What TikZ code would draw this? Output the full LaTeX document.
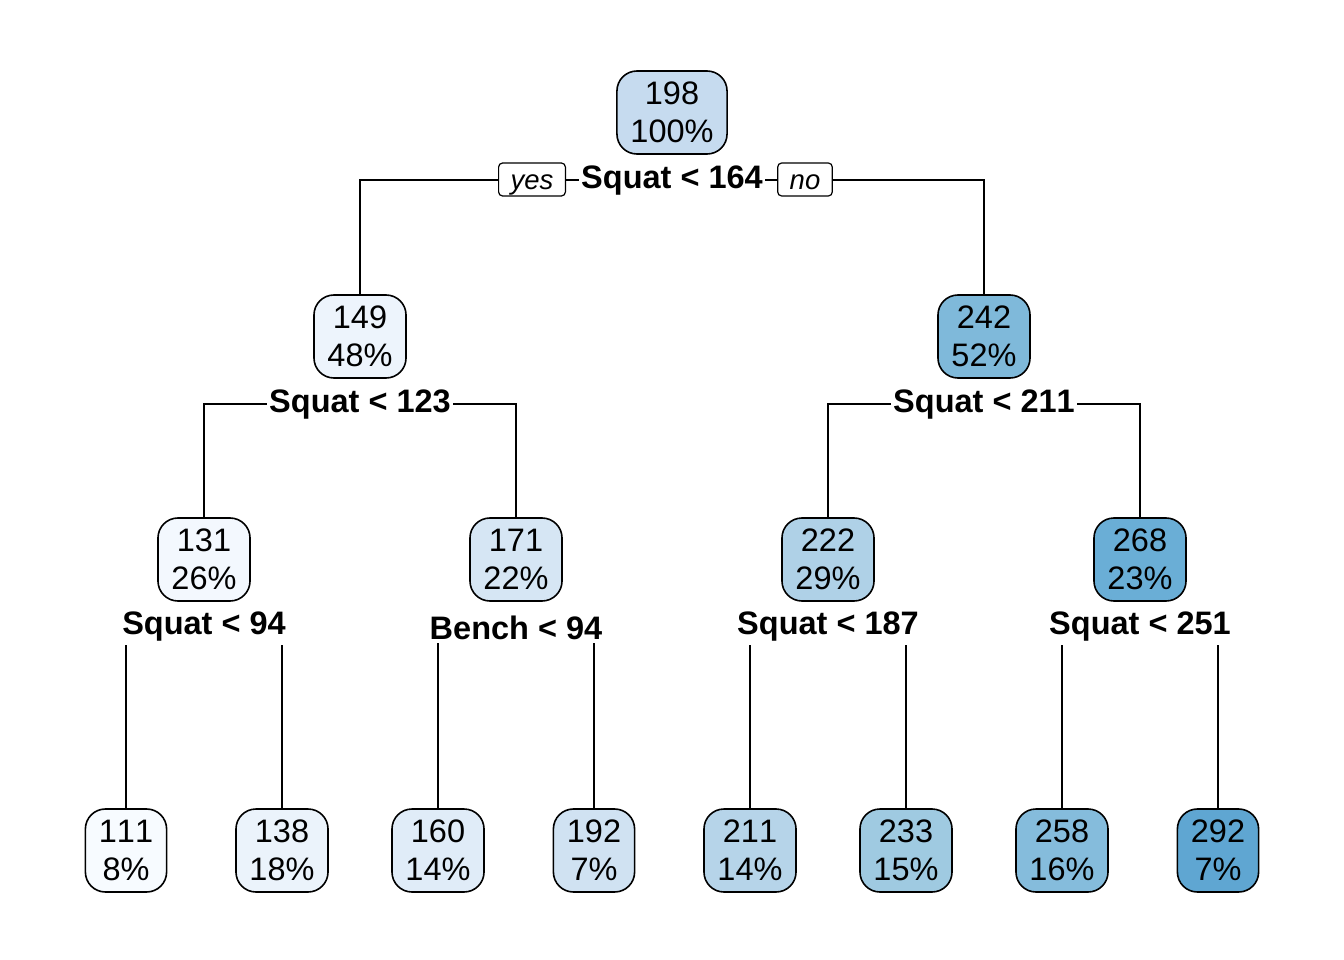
\documentclass[tikz,border=0pt]{standalone}
\usepackage{fontspec}
\setmainfont{Liberation Sans}[Kerning=Off]
\usetikzlibrary{backgrounds}
\definecolor{c111}{HTML}{F7FBFF}
\definecolor{c131}{HTML}{F3F8FE}
\definecolor{c138}{HTML}{EBF3FB}
\definecolor{c149}{HTML}{EDF4FC}
\definecolor{c160}{HTML}{E0ECF8}
\definecolor{c171}{HTML}{D6E6F4}
\definecolor{c192}{HTML}{D0E2F2}
\definecolor{c198}{HTML}{C6DBEF}
\definecolor{c211}{HTML}{B6D4E9}
\definecolor{c222}{HTML}{AFD1E7}
\definecolor{c233}{HTML}{9FCAE1}
\definecolor{c242}{HTML}{7FB9DA}
\definecolor{c258}{HTML}{85BCDC}
\definecolor{c268}{HTML}{6AAED6}
\definecolor{c292}{HTML}{5FA6D2}
\begin{document}
\begin{tikzpicture}[x=1pt,y=-1pt,
  tbox/.style={draw, line width=1.6pt, rounded corners=20pt, minimum height=83pt,
    inner xsep=13.5pt, inner ysep=0pt, align=center, font=\fontsize{32.5}{38}\selectfont},
  split/.style={fill=white, inner xsep=2pt, inner ysep=3pt, font=\fontsize{32.5}{36}\selectfont\bfseries},
  yn/.style={draw, fill=white, line width=1.2pt, rounded corners=4pt, minimum height=33pt,
    inner xsep=12pt, inner ysep=0pt, text height=20pt, text depth=0pt,
    font=\fontsize{27.5}{30}\selectfont\itshape},
  edge/.style={line width=1.4pt}]
\useasboundingbox (0,0) rectangle (1344,960);
% nodes
\node[tbox, fill=c198] (n198) at (672,112.5) {198\\100\%};
\node[tbox, fill=c149] (n149) at (360,336.5) {149\\48\%};
\node[tbox, fill=c242] (n242) at (984,336.5) {242\\52\%};
\node[tbox, fill=c131] (n131) at (204,559.5) {131\\26\%};
\node[tbox, fill=c171] (n171) at (516,559.5) {171\\22\%};
\node[tbox, fill=c222] (n222) at (828,559.5) {222\\29\%};
\node[tbox, fill=c268] (n268) at (1140,559.5) {268\\23\%};
\node[tbox, fill=c111] (n111) at (126,850.5) {111\\8\%};
\node[tbox, fill=c138] (n138) at (282,850.5) {138\\18\%};
\node[tbox, fill=c160] (n160) at (438,850.5) {160\\14\%};
\node[tbox, fill=c192] (n192) at (594,850.5) {192\\7\%};
\node[tbox, fill=c211] (n211) at (750,850.5) {211\\14\%};
\node[tbox, fill=c233] (n233) at (906,850.5) {233\\15\%};
\node[tbox, fill=c258] (n258) at (1062,850.5) {258\\16\%};
\node[tbox, fill=c292] (n292) at (1218,850.5) {292\\7\%};
% split labels
\node[split] (s1) at (672,181) {Squat < 164};
\node[split] (s2) at (360,405) {Squat < 123};
\node[split] (s3) at (984,405) {Squat < 211};
\node[split] (s4) at (204,627) {Squat < 94};
\node[split] (s5) at (516,628) {Bench < 94};
\node[split] (s6) at (828,627) {Squat < 187};
\node[split] (s7) at (1140,627) {Squat < 251};
\node[yn] (yes) at (532,179.5) {yes};
\node[yn] (no) at (805,179.5) {no};
% connectors
\coordinate (h1) at (672,180);
\coordinate (h2) at (360,404);
\coordinate (h3) at (984,404);
\coordinate (h4) at (204,626);
\coordinate (h5) at (516,626);
\coordinate (h6) at (828,626);
\coordinate (h7) at (1140,626);
\begin{scope}[on background layer]
\draw[edge] (n149.north) -- (n149.north |- h1) -- (n242.north |- h1) -- (n242.north);
\draw[edge] (n131.north) -- (n131.north |- h2) -- (n171.north |- h2) -- (n171.north);
\draw[edge] (n222.north) -- (n222.north |- h3) -- (n268.north |- h3) -- (n268.north);
\draw[edge] (n111.north) -- (n111.north |- h4) -- (n138.north |- h4) -- (n138.north);
\draw[edge] (n160.north) -- (n160.north |- h5) -- (n192.north |- h5) -- (n192.north);
\draw[edge] (n211.north) -- (n211.north |- h6) -- (n233.north |- h6) -- (n233.north);
\draw[edge] (n258.north) -- (n258.north |- h7) -- (n292.north |- h7) -- (n292.north);
\end{scope}
\end{tikzpicture}
\end{document}
